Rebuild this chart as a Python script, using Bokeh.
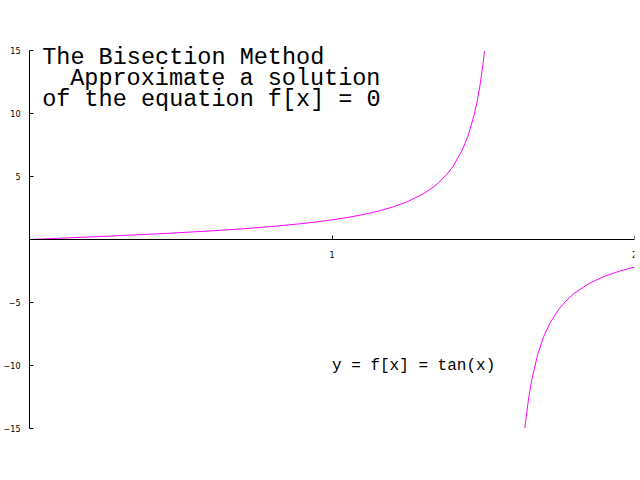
from bokeh.plotting import figure
from bokeh.models import FixedTicker, Range1d, Label
from bokeh.embed import file_html
from bokeh.resources import INLINE

# Branch of y = tan(x) left of the asymptote
x_left = [0.0, 0.1, 0.2, 0.3, 0.4, 0.5, 0.6, 0.7, 0.8, 0.9, 0.95, 1.0, 1.05, 1.1,
          1.15, 1.2, 1.25, 1.3, 1.33, 1.35, 1.38, 1.4, 1.43, 1.45, 1.47, 1.48,
          1.49, 1.5, 1.504]
y_left = [0.0, 0.100, 0.203, 0.309, 0.423, 0.546, 0.684, 0.842, 1.030, 1.260, 1.398,
          1.557, 1.743, 1.965, 2.234, 2.572, 3.010, 3.602, 4.072, 4.455, 5.177,
          5.798, 7.06, 8.24, 9.89, 10.98, 12.35, 14.10, 14.95]

# Branch right of the asymptote
x_right = [1.6375, 1.64, 1.65, 1.66, 1.68, 1.70, 1.72, 1.75, 1.78, 1.80, 1.85,
           1.90, 1.95, 2.0]
y_right = [-14.97, -14.43, -12.60, -11.18, -9.12, -7.70, -6.65, -5.52, -4.71,
           -4.286, -3.488, -2.927, -2.509, -2.185]

x_ticks = [1, 2]
y_ticks = [-15, -10, -5, 5, 10, 15]

title_lines = ["The Bisection Method", "Approximate a solution", "of the equation f[x] = 0"]
title_indent_px = [0, 28, 0]
curve_label = "y = f[x] = tan(x)"

# scales: 30 y-units over 378 px; frame extended to the top of the canvas
px_per_unit_y = 378 / 30.0
y_bottom = min(y_ticks)
y_top = max(y_ticks) + 50 / px_per_unit_y

p = figure(width=640, height=480, x_range=Range1d(0, max(x_ticks)), y_range=Range1d(y_bottom, y_top),
           output_backend="svg", toolbar_location=None,
           min_border_left=26, min_border_right=6, min_border_top=0, min_border_bottom=52)
p.grid.visible = False
p.outline_line_color = None
p.background_fill_color = "white"
p.border_fill_color = "white"

p.xaxis.fixed_location = 0
p.xaxis.ticker = FixedTicker(ticks=x_ticks)
p.yaxis.ticker = FixedTicker(ticks=y_ticks)
for ax in (p.xaxis, p.yaxis):
    ax.major_tick_in = 4
    ax.major_tick_out = 0
    ax.minor_tick_in = 0
    ax.minor_tick_out = 0
    ax.axis_line_color = "black"
    ax.axis_line_width = 1
    ax.major_tick_line_color = "black"
    ax.major_label_text_font = "DejaVu Sans"
    ax.major_label_text_font_size = "8px"
    ax.major_label_text_color = "black"
p.xaxis.major_label_standoff = 11
p.yaxis.major_label_standoff = 9
p.yaxis.bounds = (min(y_ticks), max(y_ticks))

p.line(x_left, y_left, line_color="#FF00FF", line_width=1)
p.line(x_right, y_right, line_color="#FF00FF", line_width=1)

# Title block (monospace, three lines)
title_x = 0.042
title_y0 = 14.45
step = 21 / px_per_unit_y
for i, line in enumerate(title_lines):
    p.add_layout(Label(x=title_x, y=title_y0 - i * step, x_offset=title_indent_px[i],
                       text=line, text_font="Liberation Mono", text_font_size="23.5px",
                       text_color="black", text_align="left", text_baseline="alphabetic"))

p.add_layout(Label(x=1.0, y=-10.0, text=curve_label,
                   text_font="Liberation Mono", text_font_size="16px",
                   text_color="black", text_align="left", text_baseline="alphabetic"))

open("out.html", "w").write(file_html(p, INLINE))
